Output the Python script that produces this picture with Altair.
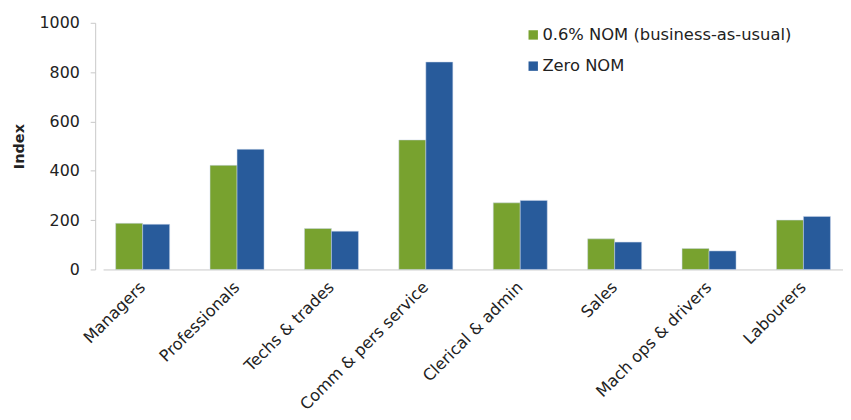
import altair as alt
import pandas as pd

categories = ["Managers", "Professionals", "Techs & trades", "Comm & pers service",
              "Clerical & admin", "Sales", "Mach ops & drivers", "Labourers"]
series_names = ["0.6% NOM (business-as-usual)", "Zero NOM"]
bau_values = [187, 422, 166, 525, 270, 124, 85, 200]
zero_values = [183, 487, 155, 841, 280, 111, 75, 215]
colors = ["#78a22f", "#285b9b"]

rows = []
for c, a, b in zip(categories, bau_values, zero_values):
    rows.append({"cat": c, "series": series_names[0], "value": a})
    rows.append({"cat": c, "series": series_names[1], "value": b})
df = pd.DataFrame(rows)

FONT = "DejaVu Sans"

chart = alt.Chart(df).mark_bar(stroke="#c9d6ea", strokeWidth=0.5).encode(
    x=alt.X("cat:N", sort=categories, title=None,
            scale=alt.Scale(paddingInner=0.428, paddingOuter=0.133),
            axis=alt.Axis(labelAngle=-45, labelAlign="right", labelBaseline="middle",
                          labelPadding=15, ticks=False, domainColor="#c8c8c8",
                          labelFontSize=16.3, labelFont=FONT, labelColor="#222222",
                          labelLimit=0)),
    xOffset=alt.XOffset("series:N", sort=series_names),
    y=alt.Y("value:Q", title="Index",
            scale=alt.Scale(domain=[0, 1000]),
            axis=alt.Axis(values=[0, 200, 400, 600, 800, 1000], format="d", grid=False,
                          offset=8, tickSize=5, tickColor="#c8c8c8",
                          domainColor="#c8c8c8", labelPadding=11,
                          labelFontSize=16, labelFont=FONT, labelColor="#222222",
                          titleFont=FONT, titleFontSize=14.6, titleFontWeight="bold",
                          titleColor="#222222", titlePadding=13)),
    color=alt.Color("series:N", sort=series_names,
                    scale=alt.Scale(domain=series_names, range=colors),
                    legend=alt.Legend(title=None, orient="none", legendX=426, legendY=4,
                                      symbolType="square", symbolSize=90,
                                      symbolStrokeWidth=0, labelOffset=1,
                                      rowPadding=14.5, labelFontSize=16.5, labelLimit=0,
                                      labelFont=FONT, labelColor="#222222")),
).properties(
    width=747, height=249,
    autosize=alt.AutoSizeParams(type="none"),
    padding={"left": 96, "top": 13, "right": 0, "bottom": 145},
).configure_view(stroke=None)

chart.save("out.html", embed_options={"renderer": "svg", "actions": False})
